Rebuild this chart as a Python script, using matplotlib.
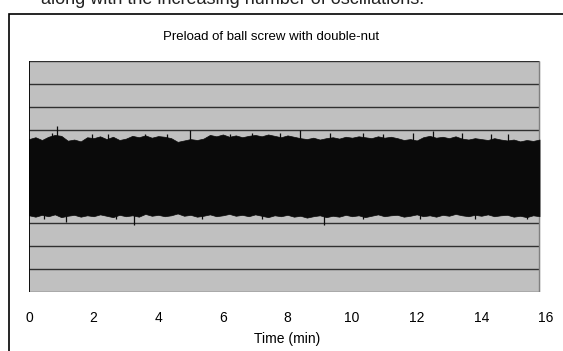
import numpy as np
import matplotlib
matplotlib.use('Agg')
from matplotlib import pyplot as plt
from matplotlib.patches import Rectangle

plt.rcParams['font.family'] = ['Liberation Sans', 'DejaVu Sans']

time_min = np.arange(0, 15.81, 0.2)
upper = [1.62, 1.70, 1.58, 1.72, 1.80, 1.76, 1.55, 1.60, 1.52, 1.70,
         1.66, 1.74, 1.62, 1.72, 1.58, 1.64, 1.76, 1.70, 1.78, 1.68,
         1.75, 1.72, 1.66, 1.50, 1.56, 1.62, 1.58, 1.64, 1.80, 1.74,
         1.82, 1.72, 1.78, 1.70, 1.76, 1.80, 1.74, 1.82, 1.76, 1.70,
         1.78, 1.72, 1.66, 1.62, 1.68, 1.60, 1.66, 1.70, 1.64, 1.72,
         1.68, 1.74, 1.70, 1.66, 1.74, 1.68, 1.72, 1.66, 1.58, 1.62,
         1.56, 1.70, 1.76, 1.68, 1.72, 1.66, 1.74, 1.64, 1.60, 1.66,
         1.62, 1.58, 1.66, 1.60, 1.56, 1.60, 1.52, 1.58, 1.54, 1.60]
lower = [-1.68, -1.74, -1.66, -1.72, -1.64, -1.76, -1.70, -1.66, -1.74, -1.68,
         -1.72, -1.64, -1.70, -1.76, -1.66, -1.72, -1.68, -1.74, -1.62, -1.70,
         -1.66, -1.72, -1.68, -1.60, -1.70, -1.66, -1.74, -1.70, -1.64, -1.72,
         -1.68, -1.62, -1.70, -1.66, -1.72, -1.64, -1.70, -1.76, -1.68, -1.72,
         -1.66, -1.74, -1.70, -1.78, -1.72, -1.68, -1.76, -1.70, -1.74, -1.66,
         -1.72, -1.68, -1.76, -1.70, -1.64, -1.72, -1.68, -1.66, -1.74, -1.70,
         -1.64, -1.72, -1.68, -1.74, -1.66, -1.70, -1.62, -1.68, -1.72, -1.66,
         -1.70, -1.64, -1.72, -1.68, -1.66, -1.74, -1.70, -1.76, -1.68, -1.72]

# isolated peaks that stick out of the band
spike_up_t = [0.71, 0.87, 1.95, 2.45, 3.60, 4.27, 4.98, 6.22, 6.90, 7.77, 8.39,
              9.32, 10.34, 10.95, 11.89, 12.51, 13.41, 14.30, 14.83]
spike_up_v = [1.90, 2.17, 1.86, 1.85, 1.86, 1.85, 2.03, 1.85, 1.88, 1.90, 2.00,
              1.90, 1.90, 1.86, 1.90, 1.98, 1.90, 1.84, 1.83]
spike_dn_t = [0.45, 1.15, 2.70, 3.25, 5.36, 7.20, 9.13, 10.34, 12.10, 13.80, 15.42]
spike_dn_v = [-1.84, -1.95, -1.84, -2.10, -1.85, -1.86, -2.10, -1.86, -1.84, -1.85, -1.86]

t_end = 15.79

fig = plt.figure(figsize=(5.63, 3.51), dpi=100)
fig.text(41/563, 1 - 4/351, 'along with the increasing number of oscillations.',
         fontsize=13, color='#222222', va='baseline')
fig.patches.append(Rectangle((9/563, -0.05), 1.1, 0.05 + 1 - 14/351,
                             transform=fig.transFigure, fill=False, ec='black', lw=1.2))
fig.text(271/563, 1 - 37/351, 'Preload of ball screw with double-nut',
         ha='center', va='center', fontsize=9.5)

ax = fig.add_axes([29/563, 1 - 292/351, (546 - 29)/563, (292 - 61)/351])
ax.set_xlim(0, 16)
ax.set_ylim(-5, 5)
ax.axvspan(0, t_end, color='#c0c0c0', zorder=0)
ax.hlines(range(-4, 6), 0, t_end, color='#303030', lw=1, zorder=1)
ax.hlines(-5, 0, t_end, color='#505050', lw=1, zorder=1)
ax.vlines(t_end, -5, 5, color='#808080', lw=1, zorder=1)

ax.fill_between(time_min, lower, upper, color='#0a0a0a', lw=0.5, edgecolor='#0a0a0a', zorder=2)
ax.vlines(spike_up_t, 1.3, spike_up_v, color='#0a0a0a', lw=0.9, zorder=2)
ax.vlines(spike_dn_t, spike_dn_v, -1.3, color='#0a0a0a', lw=0.9, zorder=2)

ax.vlines(0, -5, 5, color='black', lw=1.3, zorder=3)
for s in ax.spines.values():
    s.set_visible(False)
ax.set_yticks([])
ax.set_xticks(range(0, 17, 2))
ax.tick_params(axis='x', length=0, pad=14, labelsize=10)
ax.set_xlabel('Time (min)', fontsize=10, labelpad=5)

fig.savefig('out.png', dpi=100)
